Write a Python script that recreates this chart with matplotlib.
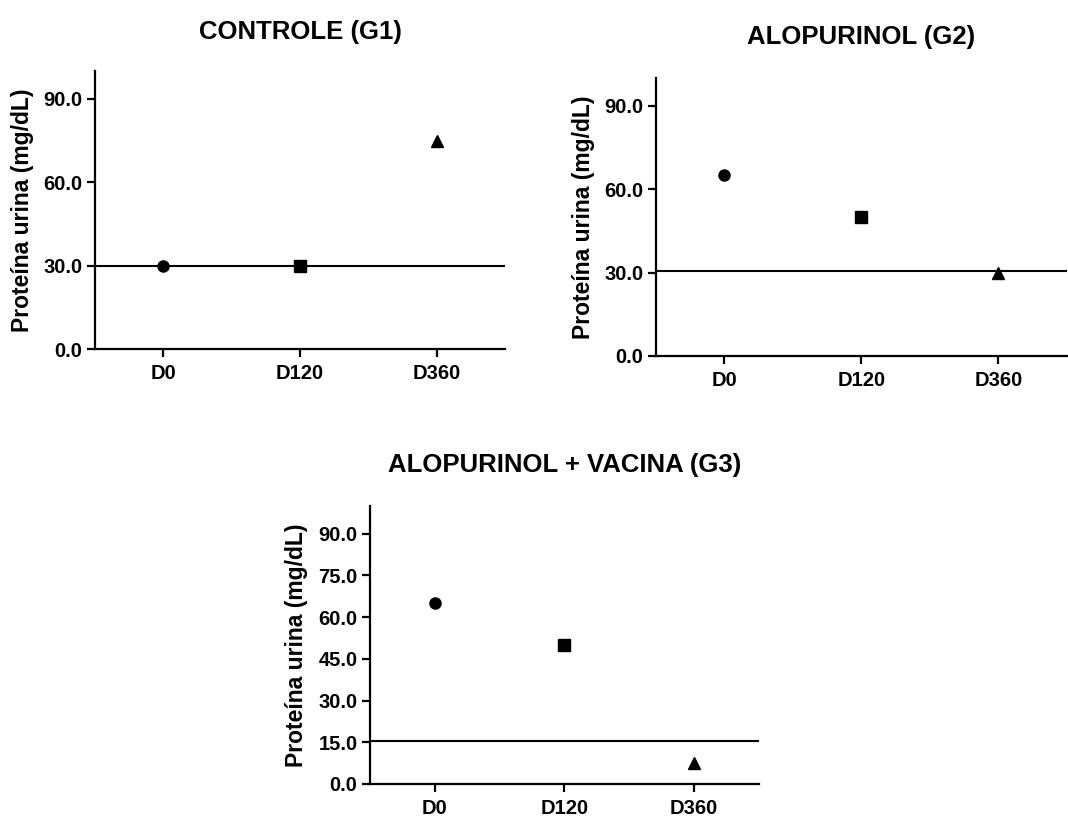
import matplotlib
matplotlib.use("Agg")
from matplotlib import pyplot as plt
import numpy as np

plt.rcParams['font.family'] = ['Liberation Sans', 'DejaVu Sans']
plt.rcParams['font.weight'] = 'bold'

# data
days = ['D0', 'D120', 'D360']
markers = ['o', 's', '^']

g1_title = 'CONTROLE (G1)'
g1_values = [30, 30, 75]
g1_line = 30
g1_ticks = [0, 30, 60, 90]

g2_title = 'ALOPURINOL (G2)'
g2_values = [65, 50, 30]
g2_line = 30.5
g2_ticks = [0, 30, 60, 90]

g3_title = 'ALOPURINOL + VACINA (G3)'
g3_values = [65, 50, 7.5]
g3_line = 15.5
g3_ticks = [0, 15, 30, 45, 60, 75, 90]

ylab = 'Proteína urina (mg/dL)'

fig = plt.figure(figsize=(10.68, 8.17), dpi=100)

# axes positions (left, bottom, width, height)
pos1 = [0.089, 0.5728, 0.3838, 0.3403]
pos2 = [0.6142, 0.5643, 0.3848, 0.3402]
pos3 = [0.3464, 0.0404, 0.3643, 0.3403]


def panel(pos, title, values, line, ticks, title_y):
    ax = fig.add_axes(pos)
    x = np.arange(len(days))
    for xi, v, m in zip(x, values, markers):
        ms = 8 if m == 'o' else 9
        ax.plot(xi, v, marker=m, color='black', markersize=ms, ls='none',
                clip_on=False, zorder=3)
    ax.axhline(line, color='black', lw=1.5, zorder=2)
    ax.set_xlim(-0.5, 2.5)
    ax.set_ylim(0, 100)
    ax.set_xticks(x)
    ax.set_xticklabels(days)
    ax.set_yticks(ticks)
    ax.set_yticklabels(['%.1f' % t for t in ticks])
    for s in ['top', 'right']:
        ax.spines[s].set_visible(False)
    for s in ['left', 'bottom']:
        ax.spines[s].set_linewidth(1.6)
    ax.tick_params(axis='both', width=1.6, length=6, labelsize=14.5)
    ax.tick_params(axis='y', pad=3)
    ax.tick_params(axis='x', pad=5)
    for lab in ax.get_xticklabels() + ax.get_yticklabels():
        lab.set_fontweight('bold')
    ax.set_ylabel(ylab, fontsize=16.5, fontweight='bold', labelpad=7)
    cx = pos[0] + pos[2] / 2
    fig.text(cx, title_y, title, ha='center', va='center',
             fontsize=18.5, fontweight='bold')
    return ax


panel(pos1, g1_title, g1_values, g1_line, g1_ticks, 1 - 32 / 817.)
panel(pos2, g2_title, g2_values, g2_line, g2_ticks, 1 - 37 / 817.)
panel(pos3, g3_title, g3_values, g3_line, g3_ticks, 1 - 465 / 817.)

fig.savefig('out.png', dpi=100)
plt.close()
